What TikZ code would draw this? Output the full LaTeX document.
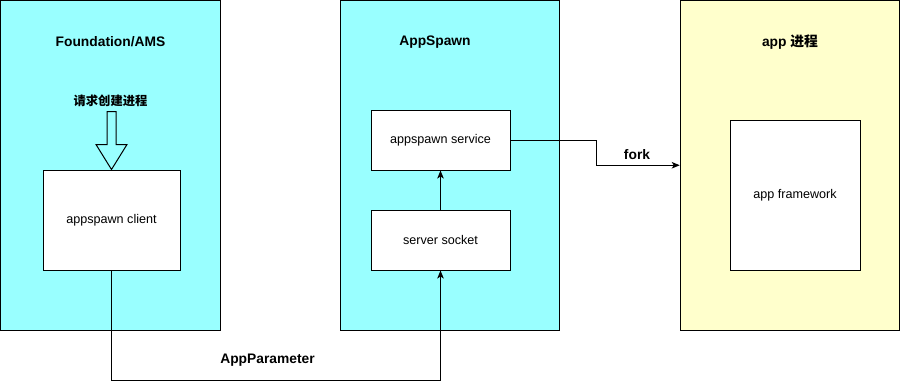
\documentclass[tikz,border=0pt]{standalone}
\usepackage{fontspec}
\setmainfont{Liberation Sans}
\newfontfamily\cjk{Noto Sans CJK SC}
\usetikzlibrary{arrows.meta,calc}
\definecolor{paleCyan}{HTML}{99FFFF}
\definecolor{paleYellow}{HTML}{FFFFCC}
\begin{document}
\begin{tikzpicture}[x=1pt,y=-1pt,line width=1pt,
  container/.style={draw=black,minimum width=219.5pt,minimum height=329.5pt,inner sep=0pt},
  module/.style={draw=black,fill=white,inner sep=0pt,font=\fontsize{12.6}{14}\selectfont},
  title/.style={font=\fontsize{13.8}{16}\bfseries\selectfont,inner sep=0pt},
  flow/.style={draw=black,-{Stealth[length=8pt,width=6.5pt,inset=2pt]}}]
\useasboundingbox (0,0) rectangle (901,389);

% three process containers
\node[container,fill=paleCyan] (ams) at (110.25,165.25) {};
\node[container,fill=paleCyan] (spawn) at (450,165.25) {};
\node[container,fill=paleYellow] (app) at (790,165.25) {};

\node[title] (amsTitle) at (110.5,42) {Foundation/AMS};
\node[title] (spawnTitle) at (435,42) {AppSpawn};
\node[title] (appTitle) at (790,42) {app {\cjk 进程}};

% inner modules
\node[module,minimum width=137pt,minimum height=100pt] (client) at (111.5,220) {appspawn client};
\node[module,minimum width=139pt,minimum height=60pt] (service) at (440.5,140) {appspawn service};
\node[module,minimum width=139pt,minimum height=60pt] (socket) at (440.5,240) {server socket};
\node[module,minimum width=130pt,minimum height=150pt] (framework) at (795,195) {app framework};

% request arrow into the client
\node[font=\cjk\fontsize{12.3}{14}\bfseries\selectfont,inner sep=0pt] (request) at (110.5,101) {请求创建进程};
\draw[line width=1pt,line join=miter] (client.north) -- ++(-15.5,-25) -- ++(11,0) -- ++(0,-33)
  -- ++(9,0) -- ++(0,33) -- ++(11,0) -- cycle;

% connectors
\draw[flow] (socket.north) -- (service.south);
\draw[flow] (service.east) -- ++(86,0) |- (app.west);
\node[title] (forkLabel) at (637,155) {fork};
\draw[flow] (client.south) -- ++(0,110) -| (socket.south);
\node[title] (paramLabel) at (267.5,360) {AppParameter};
\end{tikzpicture}
\end{document}
